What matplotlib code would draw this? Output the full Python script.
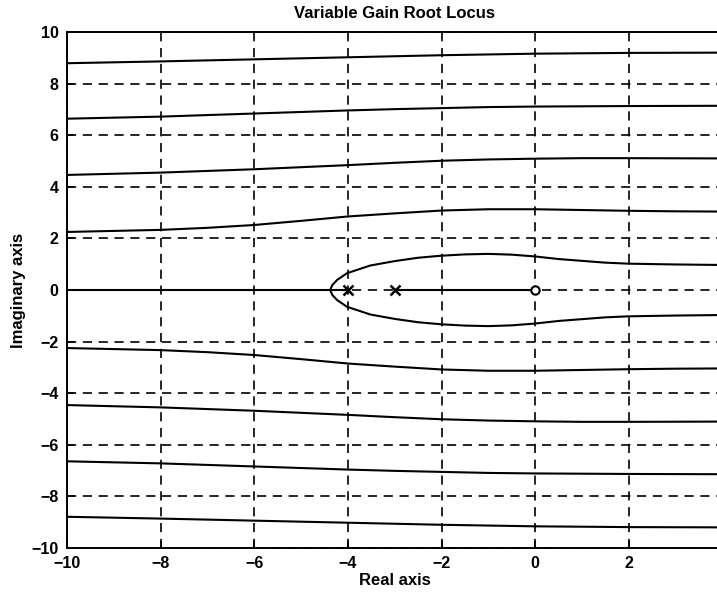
import numpy as np
import matplotlib.pyplot as plt

# Root locus branches as (real, imag) points; the locus is symmetric
# about the real axis so only the upper halves are listed.
branch1_x = [-10, -8, -7, -6, -5, -4, -3, -2, -1, 0, 1, 2, 3, 4]
branch1_y = [2.25, 2.33, 2.41, 2.52, 2.68, 2.85, 2.97, 3.08, 3.13, 3.13, 3.10, 3.07, 3.05, 3.04]
branch2_x = [-10, -8, -6, -5, -4, -3, -2, -1, 0, 1, 2, 4]
branch2_y = [4.46, 4.55, 4.68, 4.76, 4.84, 4.93, 5.01, 5.06, 5.09, 5.11, 5.11, 5.10]
branch3_x = [-10, -8, -6, -4, -3, -2, -1, 0, 2, 4]
branch3_y = [6.64, 6.72, 6.84, 6.96, 7.01, 7.05, 7.09, 7.11, 7.13, 7.14]
branch4_x = [-10, -8, -6, -4, -2, 0, 2, 4]
branch4_y = [8.79, 8.86, 8.94, 9.02, 9.10, 9.16, 9.19, 9.20]

loop_x = [-4.38, -4.33, -4.23, -4.02, -3.52, -3.0, -2.5, -2.0, -1.5, -1.0, -0.5,
          0.0, 0.5, 1.0, 1.5, 2.0, 3.0, 4.0]
loop_y = [0.0, 0.20, 0.39, 0.65, 0.95, 1.12, 1.25, 1.33, 1.38, 1.40, 1.37,
          1.30, 1.20, 1.13, 1.06, 1.02, 0.99, 0.97]

# real-axis segments of the locus
real_segments = [(-10, -4), (-3, 0)]

poles = [-4, -3]
zeros = [0]

x_ticks = list(range(-10, 4, 2))
y_ticks = list(range(-10, 11, 2))

plt.rcParams.update({
    "font.family": ["Liberation Sans", "DejaVu Sans"],
    "font.weight": "bold",
    "axes.linewidth": 1.4,
})

fig = plt.figure(figsize=(7.17, 5.92), dpi=100)
ax = fig.add_axes([67 / 717, 44 / 592, 655.4 / 717, 516 / 592])

lw = 1.5
for bx, by in ((branch1_x, branch1_y), (branch2_x, branch2_y),
               (branch3_x, branch3_y), (branch4_x, branch4_y)):
    by = np.array(by)
    ax.plot(bx, by, color="black", lw=lw)
    ax.plot(bx, -by, color="black", lw=lw)

lx = np.array(loop_x)
ly = np.array(loop_y)
ax.plot(np.r_[lx[::-1], lx[1:]], np.r_[ly[::-1], -ly[1:]], color="black", lw=lw)

for a, b in real_segments:
    ax.plot([a, b], [0, 0], color="black", lw=lw)

ax.plot(poles, [0] * len(poles), "x", color="black", ms=7.5, mew=1.8)
ax.plot(zeros, [0] * len(zeros), "o", color="black", ms=6, mew=1.5,
        markerfacecolor="white")

ax.set_xlim(-10, 4)
ax.set_ylim(-10, 10)
ax.set_xticks(x_ticks)
ax.set_yticks(y_ticks)
ax.set_xticklabels([str(t).replace("-", "\u2212") for t in x_ticks])
ax.set_yticklabels([str(t).replace("-", "\u2212") for t in y_ticks])
ax.tick_params(direction="in", length=5, width=1.2, pad=6, labelsize=11.5)

ax.grid(True, color="black", linestyle=(0, (5.5, 4)), linewidth=1.2)
ax.set_axisbelow(True)

ax.set_title("Variable Gain Root Locus", fontsize=12, fontweight="bold", pad=10)
ax.set_xlabel("Real axis", fontsize=12, fontweight="bold", labelpad=1)
ax.set_ylabel("Imaginary axis", fontsize=12, fontweight="bold", labelpad=4)

fig.savefig("out.png", dpi=100)
